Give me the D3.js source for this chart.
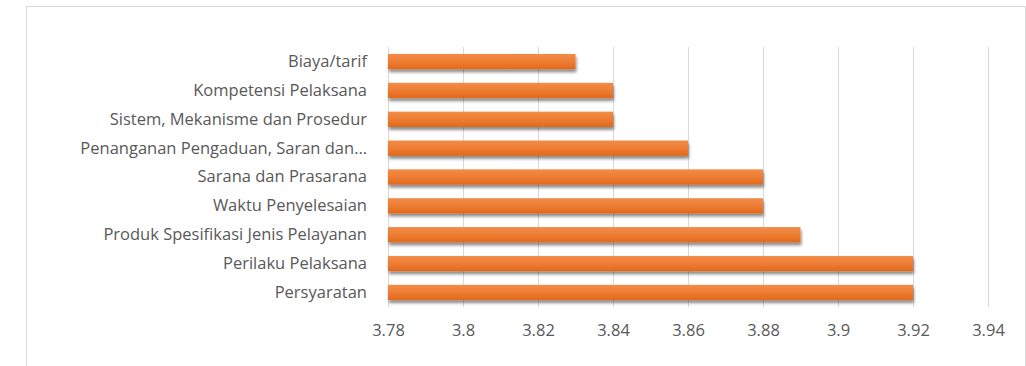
<!DOCTYPE html>
<html>
<head>
<meta charset="utf-8">
<script src="https://cdn.jsdelivr.net/npm/d3@7"></script>
<style>
  html, body { margin: 0; padding: 0; background: #fff; }
  svg { display: block; }
  text { font-family: "Open Sans", Lato, sans-serif; fill: #595959; }
</style>
</head>
<body>
<svg id="chart" width="1026" height="366"></svg>
<script>
// Service aspects, top to bottom
const categories = [
  "Biaya/tarif",
  "Kompetensi Pelaksana",
  "Sistem, Mekanisme dan Prosedur",
  "Penanganan Pengaduan, Saran dan…",
  "Sarana dan Prasarana",
  "Waktu Penyelesaian",
  "Produk Spesifikasi Jenis Pelayanan",
  "Perilaku Pelaksana",
  "Persyaratan"
];
const scores = [3.83, 3.84, 3.84, 3.86, 3.88, 3.88, 3.89, 3.92, 3.92];
const tickValues = [3.78, 3.8, 3.82, 3.84, 3.86, 3.88, 3.9, 3.92, 3.94];

const svg = d3.select("#chart");
const margin = { left: 388, right: 38, top: 47, bottom: 59 };
const W = 1026, H = 366;

// chart frame
svg.append("rect")
  .attr("x", 26.5).attr("y", 6.5)
  .attr("width", W - 27).attr("height", H)
  .attr("fill", "none").attr("stroke", "#d9d9d9").attr("stroke-width", 1);

const defs = svg.append("defs");
const grad = defs.append("linearGradient")
  .attr("id", "barFill").attr("x1", 0).attr("y1", 0).attr("x2", 0).attr("y2", 1);
grad.append("stop").attr("offset", "0%").attr("stop-color", "#f28c48");
grad.append("stop").attr("offset", "50%").attr("stop-color", "#ee7d33");
grad.append("stop").attr("offset", "100%").attr("stop-color", "#e1691b");

const shadow = defs.append("filter").attr("id", "barShadow")
  .attr("x", "-5%").attr("y", "-40%").attr("width", "110%").attr("height", "200%");
shadow.append("feGaussianBlur").attr("in", "SourceAlpha").attr("stdDeviation", 1.6).attr("result", "b");
shadow.append("feOffset").attr("in", "b").attr("dx", 1).attr("dy", 2.5).attr("result", "o");
shadow.append("feComponentTransfer").attr("in", "o").attr("result", "s")
  .append("feFuncA").attr("type", "linear").attr("slope", 0.45);
const merge = shadow.append("feMerge");
merge.append("feMergeNode").attr("in", "s");
merge.append("feMergeNode").attr("in", "SourceGraphic");

const x = d3.scaleLinear()
  .domain([3.78, 3.94])
  .range([margin.left, W - margin.right]);

const y = d3.scaleBand()
  .domain(categories)
  .range([margin.top, H - margin.bottom])
  .paddingInner(0.47)
  .paddingOuter(0.24);

// vertical gridlines
svg.append("g")
  .selectAll("line")
  .data(tickValues)
  .join("line")
  .attr("x1", d => x(d) + 0.5).attr("x2", d => x(d) + 0.5)
  .attr("y1", margin.top).attr("y2", H - margin.bottom)
  .attr("stroke", "#d9d9d9").attr("stroke-width", 1);

// bars
svg.append("g")
  .selectAll("rect")
  .data(scores)
  .join("rect")
  .attr("x", x(3.78))
  .attr("y", (d, i) => y(categories[i]))
  .attr("width", d => x(d) - x(3.78))
  .attr("height", y.bandwidth())
  .attr("fill", "url(#barFill)")
  .attr("filter", "url(#barShadow)");

// category axis
const yAxis = svg.append("g")
  .attr("transform", `translate(${margin.left},0)`)
  .call(d3.axisLeft(y).tickSize(0).tickPadding(21));
yAxis.select(".domain").remove();
yAxis.selectAll("text")
  .style("font-size", "16.5px")
  .attr("fill", "#666666")
  .attr("dy", "0.33em");

// value axis
const xAxis = svg.append("g")
  .attr("transform", `translate(0,${H - margin.bottom})`)
  .call(d3.axisBottom(x).tickValues(tickValues).tickSize(0).tickPadding(17)
    .tickFormat(d => String(+d.toFixed(2))));
xAxis.select(".domain").remove();
xAxis.selectAll("text")
  .style("font-size", "16.5px")
  .attr("fill", "#666666");
</script>
</body>
</html>
